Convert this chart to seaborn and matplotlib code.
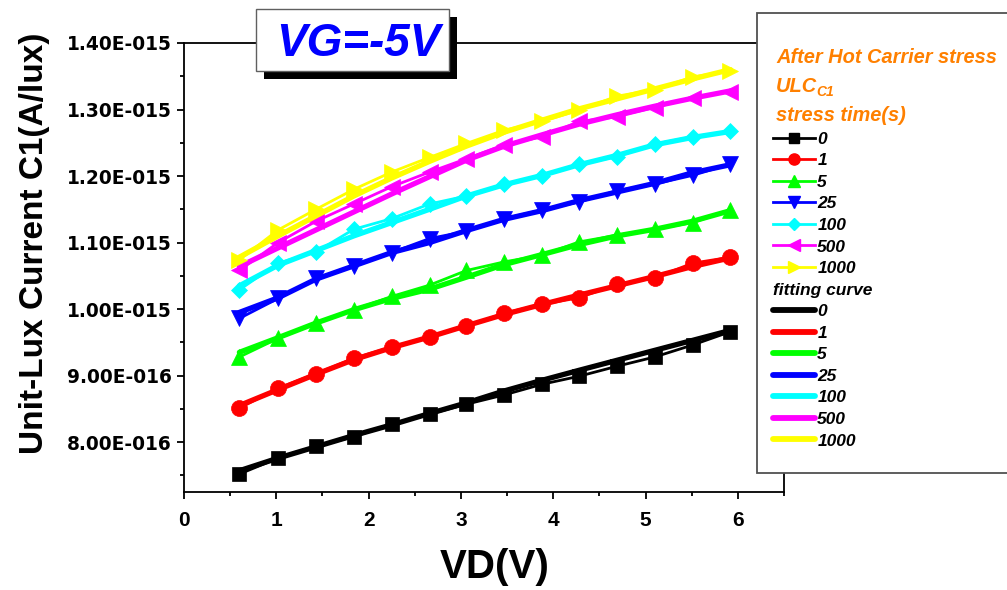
import numpy as np
import pandas as pd
import matplotlib
matplotlib.use("Agg")
import matplotlib.pyplot as plt
import seaborn as sns
from matplotlib.lines import Line2D
from matplotlib.patches import Rectangle
from matplotlib.ticker import MultipleLocator, FuncFormatter
from matplotlib.font_manager import FontProperties

# ---------------- data (current in units of 1e-15 A/lux) ----------------
vd = [0.60, 1.02, 1.43, 1.84, 2.25, 2.66, 3.06, 3.47, 3.88, 4.28, 4.69, 5.10, 5.51, 5.92]
stress_times = ["0", "1", "5", "25", "100", "500", "1000"]

ulc_0    = [0.752, 0.776, 0.794, 0.808, 0.827, 0.842, 0.857, 0.871, 0.887, 0.899, 0.914, 0.928, 0.946, 0.966]
ulc_1    = [0.851, 0.881, 0.903, 0.926, 0.943, 0.958, 0.974, 0.994, 1.007, 1.017, 1.037, 1.047, 1.069, 1.078]
ulc_5    = [0.928, 0.956, 0.979, 0.999, 1.019, 1.036, 1.058, 1.071, 1.081, 1.101, 1.111, 1.120, 1.130, 1.149]
ulc_25   = [0.986, 1.016, 1.046, 1.065, 1.085, 1.106, 1.117, 1.136, 1.149, 1.161, 1.178, 1.188, 1.201, 1.218]
ulc_100  = [1.029, 1.069, 1.086, 1.120, 1.136, 1.158, 1.170, 1.188, 1.200, 1.218, 1.229, 1.248, 1.259, 1.267]
ulc_500  = [1.058, 1.100, 1.132, 1.158, 1.184, 1.206, 1.226, 1.247, 1.259, 1.282, 1.289, 1.303, 1.318, 1.327]
ulc_1000 = [1.074, 1.119, 1.150, 1.180, 1.206, 1.228, 1.249, 1.269, 1.282, 1.299, 1.320, 1.330, 1.349, 1.358]

fit_0    = [0.757, 0.776, 0.793, 0.810, 0.826, 0.843, 0.859, 0.877, 0.893, 0.908, 0.923, 0.938, 0.953, 0.968]
fit_1    = [0.855, 0.879, 0.902, 0.924, 0.942, 0.958, 0.975, 0.992, 1.007, 1.021, 1.035, 1.049, 1.064, 1.077]
fit_5    = [0.935, 0.957, 0.979, 0.999, 1.016, 1.030, 1.048, 1.067, 1.082, 1.097, 1.110, 1.120, 1.132, 1.148]
fit_25   = [0.995, 1.017, 1.045, 1.065, 1.085, 1.100, 1.118, 1.135, 1.148, 1.163, 1.176, 1.189, 1.205, 1.217]
fit_100  = [1.035, 1.066, 1.088, 1.110, 1.130, 1.150, 1.170, 1.187, 1.201, 1.217, 1.231, 1.247, 1.258, 1.267]
fit_500  = [1.064, 1.092, 1.119, 1.146, 1.173, 1.199, 1.224, 1.245, 1.262, 1.278, 1.292, 1.305, 1.317, 1.328]
fit_1000 = [1.078, 1.110, 1.140, 1.170, 1.197, 1.222, 1.245, 1.266, 1.284, 1.301, 1.316, 1.331, 1.346, 1.360]

measured = [ulc_0, ulc_1, ulc_5, ulc_25, ulc_100, ulc_500, ulc_1000]
fitted = [fit_0, fit_1, fit_5, fit_25, fit_100, fit_500, fit_1000]

colors = ["#000000", "#FF0000", "#00FF00", "#0000FF", "#00FFFF", "#FF00FF", "#FFFF00"]
markers = ["s", "o", "^", "v", "D", "<", ">"]
msizes = [10.5, 11.5, 11.5, 11.5, 8.5, 11.5, 11.5]

x_ticks = [0, 1, 2, 3, 4, 5, 6]
y_ticks = [0.80e-15, 0.90e-15, 1.00e-15, 1.10e-15, 1.20e-15, 1.30e-15, 1.40e-15]

# ---------------- figure ----------------
W, H = 1007, 590
plt.rcParams["font.family"] = ["Liberation Sans", "DejaVu Sans"]
plt.rcParams["font.weight"] = "bold"
plt.rcParams["axes.labelweight"] = "bold"

fig = plt.figure(figsize=(W / 100, H / 100), dpi=100)
fig.patch.set_facecolor("white")


def fx(x):
    return x / W


def fy(y):
    return 1 - y / H


ax = fig.add_axes([fx(184), fy(492), fx(784) - fx(184), fy(43) - fy(492)])
ax.set_facecolor("white")

rows = []
for t, m, f in zip(stress_times, measured, fitted):
    for x, yv, yf in zip(vd, m, f):
        rows.append({"VD": x, "time": t, "I": yv * 1e-15, "fit": yf * 1e-15})
df = pd.DataFrame(rows)

for i, t in enumerate(stress_times):
    sub = df[df["time"] == t]
    sns.lineplot(data=sub, x="VD", y="fit", ax=ax, color=colors[i], linewidth=3.8,
                 estimator=None, sort=False, legend=False, zorder=2 + i * 0.1,
                 solid_capstyle="round")
    sns.lineplot(data=sub, x="VD", y="I", ax=ax, color=colors[i], linewidth=2.0,
                 marker=markers[i], markersize=msizes[i], markeredgecolor=colors[i],
                 markerfacecolor=colors[i], markeredgewidth=0.5,
                 estimator=None, sort=False, legend=False, zorder=2.05 + i * 0.1)

ax.set_xlim(0, 6.5)
ax.set_ylim(0.725e-15, 1.40e-15)
ax.set_xticks(x_ticks)
ax.xaxis.set_minor_locator(MultipleLocator(0.5))
ax.set_yticks(y_ticks)
ax.yaxis.set_minor_locator(MultipleLocator(0.05e-15))


def efmt(v, pos=None):
    m, e = f"{v:.2E}".split("E")
    return f"{m}E{int(e):+04d}".replace("+", "")


ax.yaxis.set_major_formatter(FuncFormatter(efmt))
ax.xaxis.set_major_formatter(FuncFormatter(lambda v, p: f"{int(round(v))}"))

for s in ax.spines.values():
    s.set_linewidth(1.3)
    s.set_color("black")
ax.tick_params(which="major", direction="out", length=5, width=1.3, color="black")
ax.tick_params(which="minor", direction="out", length=3, width=1.3, color="black")
ax.tick_params(axis="x", which="major", pad=9, labelsize=15)
ax.tick_params(axis="y", which="major", pad=4, labelsize=13.4, labelfontfamily="DejaVu Sans")
for lab in ax.get_yticklabels():
    lab.set_fontweight("bold")

ax.set_xlabel("VD(V)", fontsize=29, fontweight="bold")
ax.xaxis.label.set_va("baseline")
ax.xaxis.set_label_coords((494.5 - 184) / 600, (492 - 578) / 449)
ax.set_ylabel("Unit-Lux Current C1(A/lux)", fontsize=24, fontweight="bold")
ax.yaxis.label.set_va("baseline")
ax.yaxis.set_label_coords((42.7 - 184) / 600, (492 - 243.5) / 449)

# ---------------- title box ----------------
fig.patches.append(Rectangle((fx(263.7), fy(79)), fx(456.7) - fx(263.7), fy(16.7) - fy(79),
                             transform=fig.transFigure, facecolor="black", edgecolor="none",
                             zorder=1))
fig.patches.append(Rectangle((fx(255.7), fy(70.7)), fx(449) - fx(255.7), fy(9) - fy(70.7),
                             transform=fig.transFigure, facecolor="white", edgecolor="#606060",
                             linewidth=1.0, zorder=1.1))
fig.text(fx(358), fy(55.5), "VG=-5V", color="#0000FF", fontsize=33, fontweight="bold",
         fontstyle="italic", ha="center", va="baseline", zorder=3)

# ---------------- legend box ----------------
fig.patches.append(Rectangle((fx(757), fy(473)), fx(1012) - fx(757), fy(13) - fy(473),
                             transform=fig.transFigure, facecolor="white", edgecolor="#505050",
                             linewidth=1.3, zorder=1.2))
orange = "#FF8000"
fig.text(fx(776), fy(63.3), "After Hot Carrier stress", color=orange, fontsize=14.4,
         fontweight="bold", fontstyle="italic", va="baseline", zorder=3)
fig.text(fx(776), fy(91.7), "ULC", color=orange, fontsize=14.4,
         fontweight="bold", fontstyle="italic", va="baseline", zorder=3)
fig.text(fx(816), fy(95.5), "C1", color=orange, fontsize=10,
         fontweight="bold", fontstyle="italic", va="baseline", zorder=3)
fig.text(fx(776), fy(120.7), "stress time(s)", color=orange, fontsize=14.4,
         fontweight="bold", fontstyle="italic", va="baseline", zorder=3)

lprop = FontProperties(family="Liberation Sans", weight="bold", style="italic", size=12.5)
h1 = [Line2D([], [], color=c, marker=m, markersize=ms * 0.7, linewidth=2.0,
             markeredgecolor=c, markerfacecolor=c)
      for c, m, ms in zip(colors, markers, msizes)]
leg1 = fig.legend(handles=h1, labels=stress_times, loc="upper left",
                  bbox_to_anchor=(fx(773), fy(131.5)), bbox_transform=fig.transFigure,
                  frameon=False, borderpad=0, borderaxespad=0, handlelength=2.4,
                  handletextpad=0.15, labelspacing=0.37, prop=lprop)
leg1.set_zorder(4)

h2 = [Line2D([], [], color=c, linewidth=4.2, solid_capstyle="round") for c in colors]
leg2 = fig.legend(handles=h2, labels=stress_times, loc="upper left",
                  bbox_to_anchor=(fx(773), fy(282.5)), bbox_transform=fig.transFigure,
                  frameon=False, borderpad=0, borderaxespad=0, handlelength=2.4,
                  handletextpad=0.15, labelspacing=0.37, prop=lprop,
                  title="fitting curve", title_fontproperties=lprop, alignment="left")
leg2.set_zorder(4)

fig.savefig("out.png", dpi=100)
